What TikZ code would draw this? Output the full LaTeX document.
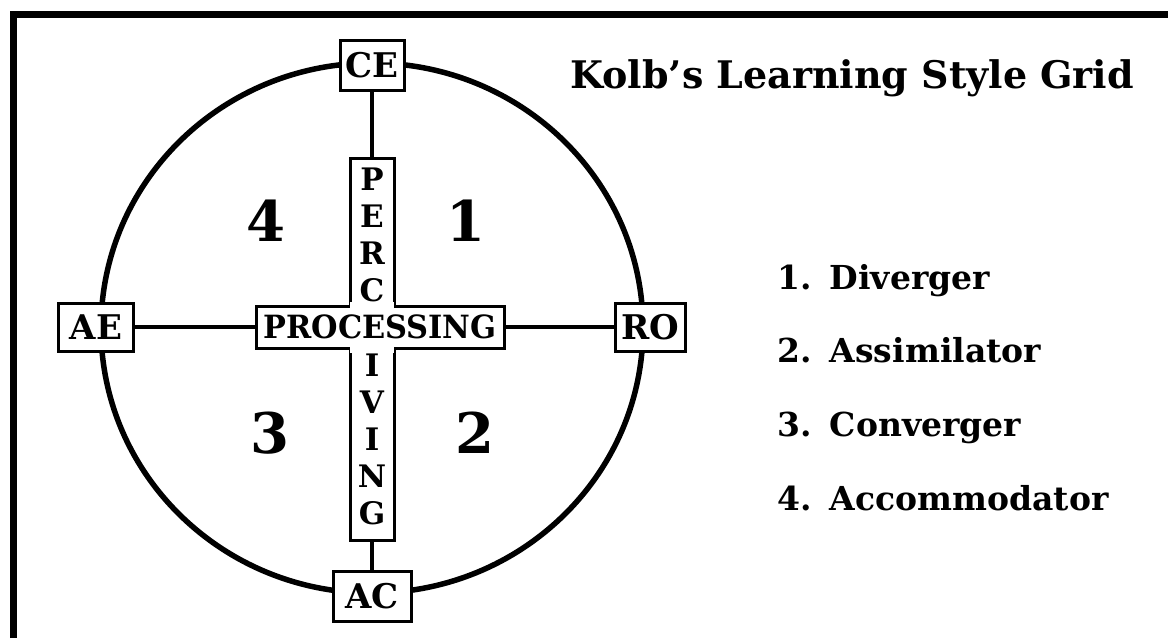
\documentclass[tikz,border=0pt]{standalone}
\usepackage{fontspec}
\setmainfont{DejaVu Serif}
\begin{document}
\begin{tikzpicture}[x=1pt,y=-1pt,
  box/.style={draw, line width=3pt, fill=white, inner sep=0pt,
    font=\bfseries\fontsize{34}{34}\selectfont},
  conn/.style={line width=4pt},
  vlet/.style={inner sep=0pt, font=\bfseries\fontsize{31}{31}\selectfont},
  digit/.style={inner sep=0pt, font=\bfseries\fontsize{56}{56}\selectfont},
  item/.style={anchor=base west, inner sep=0pt, font=\bfseries\fontsize{33}{33}\selectfont},
  titlefont/.style={anchor=base west, inner sep=0pt, font=\bfseries\fontsize{38}{40}\selectfont}]
\useasboundingbox (0,0) rectangle (1168,638);
% frame
\draw[line width=7pt] (13,638) -- (13,14) -- (1168,14);
% circle
\draw[line width=5.5pt] (372,328) ellipse [x radius=271, y radius=265];
% boxes
\node[box, minimum width=64, minimum height=50] (ce) at (372,65) {CE};
\node[box, minimum width=78, minimum height=50] (ac) at (372,596) {AC};
\node[box, minimum width=75, minimum height=48] (ae) at (96,327) {AE};
\node[box, minimum width=70, minimum height=48] (ro) at (650,327) {RO};
\node[box, minimum width=44, minimum height=382] (perc) at (372,349) {};
\node[box, minimum width=248, minimum height=42, font=\bfseries\fontsize{32}{32}\selectfont] (proc) at (380,327) {\scalebox{0.95}[1]{PROCESSING}};
% erase the edges inside the cross
\fill[white] ([xshift=1.5pt,yshift=3pt]perc.west |- proc.north) rectangle ([xshift=-1.5pt,yshift=-3pt]perc.east |- proc.north);
\fill[white] ([xshift=1.5pt,yshift=3pt]perc.west |- proc.south) rectangle ([xshift=-1.5pt,yshift=-3pt]perc.east |- proc.south);
% vertical letters
\node[vlet] (v1) at (372,179) {P};
\node[vlet] (v2) at (372,216) {E};
\node[vlet] (v3) at (372,253) {R};
\node[vlet] (v4) at (372,290) {C};
\node[vlet] (v6) at (372,365) {I};
\node[vlet] (v7) at (372,402) {V};
\node[vlet] (v8) at (372,439) {I};
\node[vlet] (v9) at (372,476) {N};
\node[vlet] (v10) at (372,513) {G};
% connectors
\draw[conn] (ce) -- (perc);
\draw[conn] (perc) -- (ac);
\draw[conn] (ae) -- (proc);
\draw[conn] (proc) -- (ro);
% quadrant numbers
\node[digit] (q4) at (266,221) {4};
\node[digit] (q1) at (466,221) {1};
\node[digit] (q3) at (270,433) {3};
\node[digit] (q2) at (475,433) {2};
% title and legend
\node[titlefont] (title) at (570,88) {Kolb's Learning Style Grid};
\node[item] (l1) at (777,289) {1.\hspace{0.55em}Diverger};
\node[item] (l2) at (777,362) {2.\hspace{0.55em}Assimilator};
\node[item] (l3) at (777,436) {3.\hspace{0.55em}Converger};
\node[item] (l4) at (777,510) {4.\hspace{0.55em}Accommodator};
\end{tikzpicture}
\end{document}
